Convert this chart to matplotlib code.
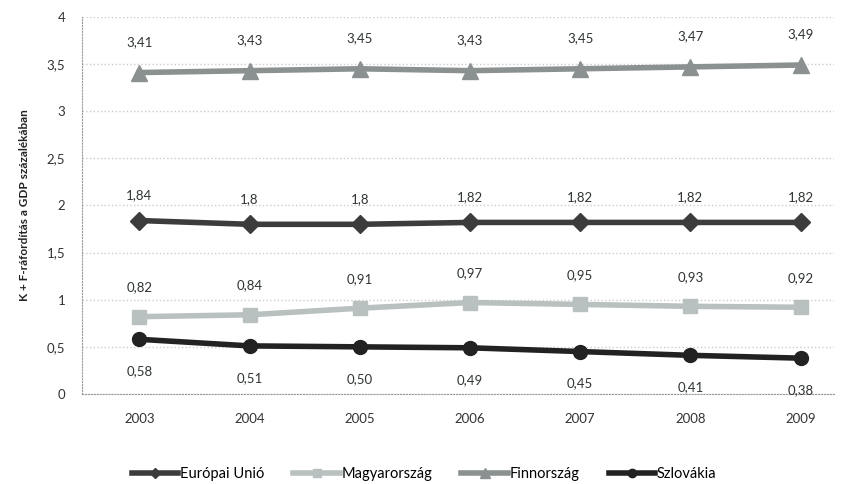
import matplotlib
matplotlib.use("Agg")
import matplotlib.pyplot as plt

plt.rcParams["font.family"] = ["Lato", "DejaVu Sans"]

years = ["2003", "2004", "2005", "2006", "2007", "2008", "2009"]
eu = [1.84, 1.80, 1.80, 1.82, 1.82, 1.82, 1.82]
hu = [0.82, 0.84, 0.91, 0.97, 0.95, 0.93, 0.92]
fi = [3.41, 3.43, 3.45, 3.43, 3.45, 3.47, 3.49]
sk = [0.58, 0.51, 0.50, 0.49, 0.45, 0.41, 0.38]

eu_labels = ["1,84", "1,8", "1,8", "1,82", "1,82", "1,82", "1,82"]
hu_labels = ["0,82", "0,84", "0,91", "0,97", "0,95", "0,93", "0,92"]
fi_labels = ["3,41", "3,43", "3,45", "3,43", "3,45", "3,47", "3,49"]
sk_labels = ["0,58", "0,51", "0,50", "0,49", "0,45", "0,41", "0,38"]

series = [
    ("Európai Unió", eu, eu_labels, "#3c3c3c", "D", 9, 18),
    ("Magyarország", hu, hu_labels, "#b9c0c0", "s", 10, 21),
    ("Finnország", fi, fi_labels, "#8b9090", "^", 11, 22),
    ("Szlovákia", sk, sk_labels, "#222222", "o", 10, -23),
]

fig = plt.figure(figsize=(8.59, 4.84), dpi=100)
ax = fig.add_axes([0.0955, 0.186, 0.875, 0.779])

x = list(range(len(years)))
for name, vals, labs, color, marker, ms, off in series:
    ax.plot(x, vals, color=color, linewidth=4, marker=marker, markersize=ms,
            label=name, zorder=3)
    for xi, v, lab in zip(x, vals, labs):
        ax.annotate(lab, (xi, v), xytext=(0, off), textcoords="offset points",
                    ha="center", va="center", fontsize=9.5, color="#2f3530")

ax.set_xlim(-0.52, 6.3)
ax.set_ylim(0, 4)
ax.set_xticks(x)
ax.set_xticklabels(years)
ax.set_yticks([0, 0.5, 1, 1.5, 2, 2.5, 3, 3.5, 4])
ax.set_yticklabels(["0", "0,5", "1", "1,5", "2", "2,5", "3", "3,5", "4"])
ax.tick_params(axis="both", labelsize=9.5, colors="#333333", length=0)
ax.tick_params(axis="x", pad=14)
ax.tick_params(axis="y", pad=12)
ax.grid(axis="y", color="#cccccc", linestyle=":", linewidth=1)
for side in ["top", "right"]:
    ax.spines[side].set_visible(False)
ax.spines["left"].set_color("#999999")
ax.spines["left"].set_linestyle(":")
ax.spines["bottom"].set_color("#999999")
ax.spines["bottom"].set_linestyle(":")

ax.set_ylabel("K + F-ráfordítás a GDP százalékában", fontsize=8.5,
              fontweight="bold", color="#222222", labelpad=12)

ax.legend(loc="upper center", bbox_to_anchor=(0.455, -0.16), ncol=4,
          frameon=False, fontsize=10.5, handlelength=3.2, handletextpad=0.1,
          columnspacing=2.0, markerscale=0.6)

fig.savefig("out.png", dpi=100)
